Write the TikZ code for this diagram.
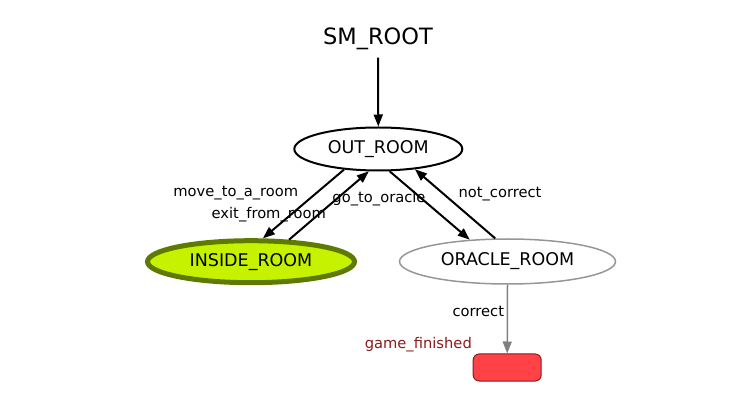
\documentclass[tikz,border=0pt]{standalone}
\usepackage{fontspec}
\setmainfont{DejaVu Sans}
\usetikzlibrary{arrows.meta,shapes.geometric}

\definecolor{insidefill}{RGB}{198,242,0}
\definecolor{insideline}{RGB}{94,122,0}
\definecolor{oracleline}{RGB}{150,150,150}
\definecolor{finishfill}{RGB}{255,66,70}
\definecolor{finishline}{RGB}{140,26,26}

\begin{document}
\begin{tikzpicture}[x=1pt, y=-1pt,
    state/.style={ellipse, draw, line width=2pt, inner sep=0pt,
        font=\fontsize{17.5}{20}\selectfont},
    trans/.style={line width=2pt, -{Triangle[length=12pt,width=9pt]}},
    tlabel/.style={inner sep=0pt, font=\fontsize{14.7}{17}\selectfont}]
    % Canvas
    \useasboundingbox (0,0) rectangle (736,411);

    % Container title
    \node[inner sep=8pt, font=\fontsize{22.5}{26}\selectfont] (root) at (378,38.5) {SM\_ROOT};

    % States
    \node[state, minimum width=168pt, minimum height=43pt] (out) at (378.3,149) {OUT\_ROOM};
    \node[state, line width=5pt, draw=insideline, fill=insidefill,
        minimum width=207pt, minimum height=42pt] (inside) at (251,261.7) {INSIDE\_ROOM};
    \node[state, line width=1.5pt, draw=oracleline,
        minimum width=216pt, minimum height=45pt] (oracle) at (507.5,261.5) {ORACLE\_ROOM};

    % Outcome box
    \node[draw=finishline, fill=finishfill, line width=1pt, rounded corners=6pt,
        minimum width=68pt, minimum height=27pt] (finished) at (507.2,367.5) {};

    % Transitions
    \draw[trans] (root.south) -- (out.north);
    \draw[trans] (out.211.6) -- (inside.63.2);
    \draw[trans] (inside.30.9) -- (out.247.1);
    \draw[trans] (out.297.3) -- (oracle.150.2);
    \draw[trans] (oracle.118.3) -- (out.331.3);
    \draw[trans, line width=1.5pt, draw=oracleline!85!black,
        -{Triangle[length=12pt,width=9pt,fill=oracleline!85!black]}]
        (oracle.south) -- (finished.north);

    % Transition labels
    \node[tlabel] (lmove) at (235.8,193) {move\_to\_a\_room};
    \node[tlabel] (lexit) at (268.8,215) {exit\_from\_room};
    \node[tlabel] (lgo) at (379,199) {go\_to\_oracle};
    \node[tlabel] (lnot) at (500,194) {not\_correct};
    \node[tlabel] (lcorrect) at (478.3,311) {correct};
    \node[tlabel, text=finishline] (lfinished) at (418.3,345) {game\_finished};
\end{tikzpicture}
\end{document}
